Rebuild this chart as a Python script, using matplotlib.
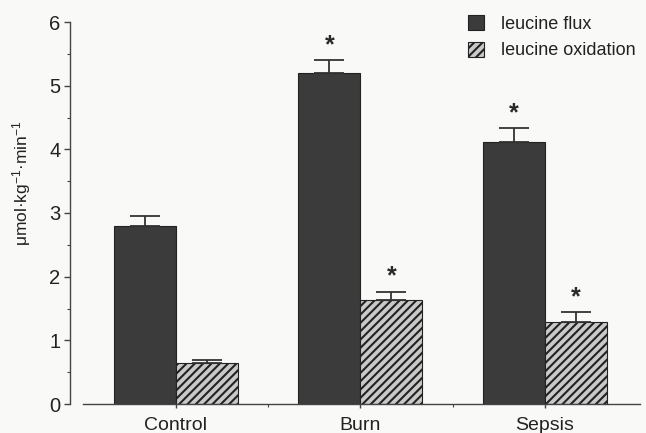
import matplotlib
matplotlib.use("Agg")
import matplotlib.pyplot as plt
import numpy as np
from matplotlib.ticker import MultipleLocator, FixedLocator

plt.rcParams['font.family'] = ['Liberation Sans', 'DejaVu Sans']
plt.rcParams['mathtext.fontset'] = 'custom'
plt.rcParams['mathtext.rm'] = 'Liberation Sans'
plt.rcParams['mathtext.it'] = 'Liberation Sans'
plt.rcParams['hatch.color'] = '#262626'
plt.rcParams['hatch.linewidth'] = 1.5

categories = ["Control", "Burn", "Sepsis"]
flux = [2.79, 5.20, 4.11]
flux_err = [0.16, 0.20, 0.22]
oxid = [0.64, 1.63, 1.29]
oxid_err = [0.05, 0.13, 0.15]
flux_sig = [False, True, True]
oxid_sig = [False, True, True]
series_labels = ["leucine flux", "leucine oxidation"]

bg = '#f9f9f7'
fig = plt.figure(figsize=(6.46, 4.33), dpi=100, facecolor=bg)
ax = fig.add_axes([70/646, 29/433, 570/646, 382/433])
ax.set_facecolor(bg)

x = np.arange(len(categories))
w = 0.336
ax.bar(x - w/2, flux, w, color='#3b3b3b', edgecolor='#222222', linewidth=0.8,
       label=series_labels[0], zorder=2)
ax.bar(x + w/2, oxid, w, color='#c9c9c9', edgecolor='#222222', linewidth=0.8,
       hatch='////', label=series_labels[1], zorder=2)

ax.errorbar(x - w/2, flux, yerr=[np.zeros(3), flux_err], fmt='none', ecolor='#333333',
            elinewidth=1.3, capsize=11, capthick=1.3, zorder=3)
ax.errorbar(x + w/2, oxid, yerr=[np.zeros(3), oxid_err], fmt='none', ecolor='#333333',
            elinewidth=1.3, capsize=11, capthick=1.3, zorder=3)

for i in range(3):
    if flux_sig[i]:
        ax.text(x[i] - w/2, flux[i] + flux_err[i] + 0.05, '*', ha='center', va='bottom',
                fontsize=18, fontweight='bold', color='#2a2a2a')
    if oxid_sig[i]:
        ax.text(x[i] + w/2, oxid[i] + oxid_err[i] + 0.05, '*', ha='center', va='bottom',
                fontsize=18, fontweight='bold', color='#2a2a2a')

ax.set_xlim(-0.574, 2.515)
ax.set_ylim(0, 6)
for s in ['top', 'right']:
    ax.spines[s].set_visible(False)
ax.spines['bottom'].set_bounds(-0.505, 2.515)
ax.spines['left'].set_bounds(0, 6)
for s in ['left', 'bottom']:
    ax.spines[s].set_color('#444444')
    ax.spines[s].set_linewidth(1.0)

ax.set_xticks(x)
ax.set_xticklabels(categories, fontsize=14, color='#222222')
ax.xaxis.set_minor_locator(FixedLocator([0.5, 1.5]))
ax.yaxis.set_major_locator(MultipleLocator(1))
ax.yaxis.set_minor_locator(MultipleLocator(0.5))
ax.tick_params(axis='y', which='major', length=4, width=1, color='#444444',
               labelsize=14.5, labelcolor='#222222', pad=3)
ax.tick_params(axis='y', which='minor', length=2.5, width=0.8, color='#444444')
ax.tick_params(axis='x', which='major', length=3, width=1, color='#444444', pad=6)
ax.tick_params(axis='x', which='minor', length=2.5, width=0.8, color='#444444')

fig.text(22/646, 1 - 183/433, r'μmol·kg$^{-1}$·min$^{-1}$', rotation=90, ha='center',
         va='center', fontsize=12.5, color='#222222')

leg = ax.legend(loc='upper left', bbox_to_anchor=((468 - 70)/570, (404 - 15)/382),
                frameon=False, fontsize=13, handlelength=0.9, handleheight=0.9,
                handletextpad=0.95, labelspacing=0.5, borderaxespad=0, borderpad=0)
for t in leg.get_texts():
    t.set_color('#222222')

fig.savefig('out.png', dpi=100, facecolor=bg)
